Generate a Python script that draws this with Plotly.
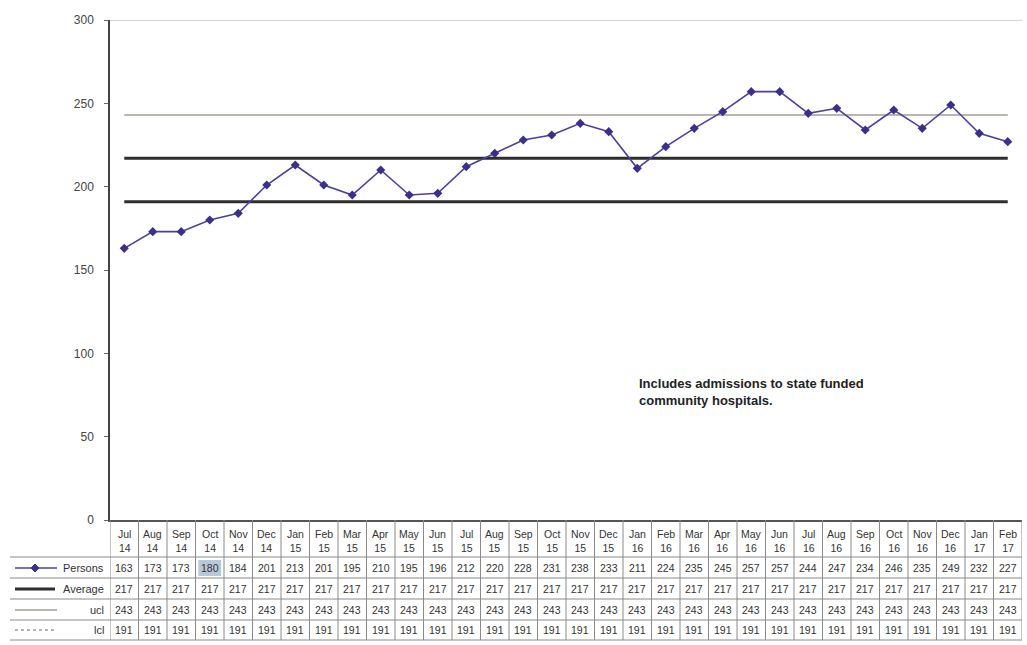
import plotly.graph_objects as go

months = ["Jul", "Aug", "Sep", "Oct", "Nov", "Dec",
          "Jan", "Feb", "Mar", "Apr", "May", "Jun", "Jul", "Aug", "Sep", "Oct", "Nov", "Dec",
          "Jan", "Feb", "Mar", "Apr", "May", "Jun", "Jul", "Aug", "Sep", "Oct", "Nov", "Dec",
          "Jan", "Feb"]
years = ["14"] * 6 + ["15"] * 12 + ["16"] * 12 + ["17"] * 2
persons = [163, 173, 173, 180, 184, 201, 213, 201, 195, 210, 195, 196, 212, 220, 228, 231,
           238, 233, 211, 224, 235, 245, 257, 257, 244, 247, 234, 246, 235, 249, 232, 227]
average = [217] * 32
ucl = [243] * 32
lcl = [191] * 32
row_names = ["Persons", "Average", "ucl", "lcl"]
note = "Includes admissions to state funded<br>community hospitals."

W, H = 1027, 645
L, R, T, B = 110, 5, 20, 125
PH = H - T - B
PW = W - L - R
x = list(range(len(months)))


def py(pix):
    return (H - B - pix) / PH


def px(pix):
    return (pix - L) / PW


fig = go.Figure()
fig.add_trace(go.Scatter(x=x, y=ucl, mode="lines", line=dict(color="#a49c96", width=1.5),
                         hoverinfo="skip"))
fig.add_trace(go.Scatter(x=x, y=average, mode="lines", line=dict(color="#2e2e2e", width=3),
                         hoverinfo="skip"))
fig.add_trace(go.Scatter(x=x, y=lcl, mode="lines", line=dict(color="#2e2e2e", width=3),
                         hoverinfo="skip"))
fig.add_trace(go.Scatter(x=x, y=persons, mode="lines+markers",
                         line=dict(color="#4a40a0", width=1.6),
                         marker=dict(symbol="diamond", size=7, color="#3a2f8c")))

shapes = []
annotations = []
grid = "#8a8a8a"
tf = dict(family="Liberation Sans, Arial, sans-serif", size=10.5, color="#333333")
lf = dict(family="Liberation Sans, Arial, sans-serif", size=11, color="#333333")

# top border line at 300
shapes.append(dict(type="line", xref="paper", yref="y", x0=0, x1=1, y0=300, y1=300,
                   line=dict(color="#b5aca5", width=1.2)))

# table rows
row_lines = [557, 578, 599, 620, 640]
row_centers = [568, 589, 610, 630]
for yl in row_lines:
    shapes.append(dict(type="line", xref="paper", yref="paper", x0=px(10), x1=1,
                       y0=py(yl), y1=py(yl), line=dict(color=grid, width=1)))
# vertical column boundaries
for i in range(len(months) + 1):
    shapes.append(dict(type="line", xref="x", yref="paper", x0=i - 0.5, x1=i - 0.5,
                       y0=py(520), y1=py(640), line=dict(color=grid, width=1)))

# highlighted cell
shapes.append(dict(type="rect", xref="x", yref="paper", x0=2.6, x1=3.4,
                   y0=py(576), y1=py(560), fillcolor="#b9c8d8", line=dict(width=0),
                   layer="below"))

# header cells
for i, (m, yv) in enumerate(zip(months, years)):
    annotations.append(dict(x=i, y=py(541), xref="x", yref="paper", text=m + "<br>" + yv,
                            showarrow=False, font=tf, align="center", yanchor="middle"))

# value cells
for r, vals in enumerate([persons, average, ucl, lcl]):
    for i, v in enumerate(vals):
        annotations.append(dict(x=i, y=py(row_centers[r]), xref="x", yref="paper",
                                text=str(v), showarrow=False, font=tf, yanchor="middle"))
    annotations.append(dict(x=px(106), y=py(row_centers[r]), xref="paper", yref="paper",
                            text=row_names[r], showarrow=False, xanchor="right",
                            yanchor="middle", font=lf))

# legend keys in the table
yc = py(row_centers[0])
shapes.append(dict(type="line", xref="paper", yref="paper", x0=px(15), x1=px(57), y0=yc, y1=yc,
                   line=dict(color="#4a40a0", width=1.5)))
cx, d, dy = px(35), 4 / PW, 4 / PH
shapes.append(dict(type="path", xref="paper", yref="paper",
                   path=f"M {cx-d} {yc} L {cx} {yc+dy} L {cx+d} {yc} L {cx} {yc-dy} Z",
                   fillcolor="#3a2f8c", line=dict(color="#3a2f8c", width=1)))
yc = py(row_centers[1])
shapes.append(dict(type="line", xref="paper", yref="paper", x0=px(15), x1=px(55), y0=yc, y1=yc,
                   line=dict(color="#2e2e2e", width=3)))
yc = py(row_centers[2])
shapes.append(dict(type="line", xref="paper", yref="paper", x0=px(15), x1=px(57), y0=yc, y1=yc,
                   line=dict(color="#a49c96", width=1.5)))
yc = py(row_centers[3])
shapes.append(dict(type="line", xref="paper", yref="paper", x0=px(15), x1=px(57), y0=yc, y1=yc,
                   line=dict(color="#a49c96", width=1.5, dash="dot")))

annotations.append(dict(x=px(637), y=py(374), xref="paper", yref="paper", text=note,
                        showarrow=False, xanchor="left", yanchor="top", align="left",
                        font=dict(family="Liberation Sans, Arial, sans-serif", size=13,
                                  color="#222222", weight="bold")))

fig.update_layout(
    width=W, height=H,
    margin=dict(l=L, r=R, t=T, b=B),
    paper_bgcolor="white", plot_bgcolor="white",
    showlegend=False,
    shapes=shapes, annotations=annotations,
    xaxis=dict(range=[-0.5, len(months) - 0.5], showticklabels=False, showgrid=False,
               zeroline=False, showline=True, linecolor="#555555", linewidth=1.5,
               fixedrange=True),
    yaxis=dict(range=[0, 300], tickvals=[0, 50, 100, 150, 200, 250, 300], showgrid=False,
               zeroline=False, showline=True, linecolor="#444444", linewidth=1.5,
               ticks="outside", ticklen=4, tickcolor="#666666",
               tickfont=dict(family="Liberation Sans, Arial, sans-serif", size=12,
                             color="#444444"),
               ticklabelstandoff=8, fixedrange=True),
)

fig.write_html("out.html", config={"displayModeBar": False},
               post_script="document.body.style.margin='0';document.body.style.overflow='hidden';")
